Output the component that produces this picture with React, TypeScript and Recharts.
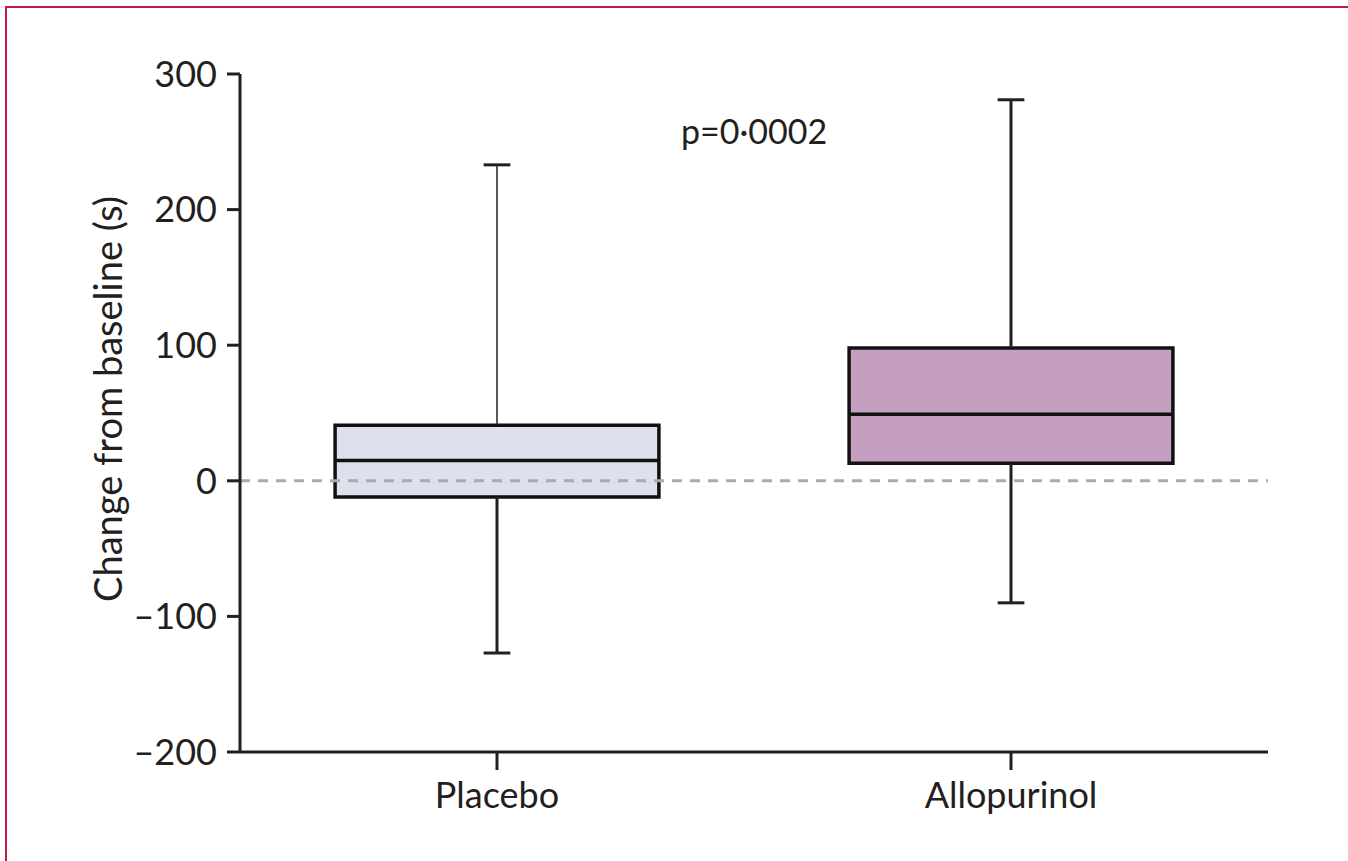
/**
 * Box plot — change from baseline (s), placebo vs allopurinol.
 */

import {
  ComposedChart,
  XAxis,
  YAxis,
  ReferenceArea,
  ReferenceLine,
  ReferenceDot,
} from "recharts";

// values
const groups = ["Placebo", "Allopurinol"];
const whiskerMin = [-127, -90];
const q1 = [-12, 13];
const median = [15, 49];
const q3 = [41, 98];
const whiskerMax = [233, 281];
const yTicks = [-200, -100, 0, 100, 200, 300];
const pValue = "p=0·0002";
const yTitle = "Change from baseline (s)";

const ink = "#231f20";
const fills = ["#dde1ee", "#c59fc0"];
const BOX_HALF = 0.315;
const CAP_HALF = 0.026;
const FONT = "Lato, 'Open Sans', sans-serif";

const fmtY = (v: number) => (v < 0 ? `\u2013${Math.abs(v)}` : `${v}`);

// rotated axis title, nudged up a little like the original
function YTitle(props: any) {
  const vb = props.viewBox || { x: 60, y: 74, width: 180, height: 678 };
  const cx = vb.x + 47;
  const cy = vb.y + vb.height / 2 - 14;
  return (
    <text
      x={cx}
      y={cy}
      transform={`rotate(-90, ${cx}, ${cy})`}
      textAnchor="middle"
      dominantBaseline="central"
      fill={ink}
      fontSize={38}
      fontFamily={FONT}
    >
      {yTitle}
    </text>
  );
}

export default function App() {
  const centers = groups.map((_, i) => i + 0.5);

  return (
    <div
      style={{
        position: "absolute",
        left: 0,
        top: 0,
        width: 1348,
        height: 861,
        background: "#fff",
        overflow: "hidden",
        fontFamily: FONT,
      }}
    >
      {/* frame, only top + left edges fall inside the crop */}
      <div
        style={{
          position: "absolute",
          left: 5,
          top: 6,
          width: 1400,
          height: 900,
          borderTop: "2px solid #c8194b",
          borderLeft: "2px solid #c8194b",
        }}
      />
      <div style={{ position: "absolute", left: 0, top: 0 }}>
        <ComposedChart
          width={1348}
          height={861}
          data={groups.map((g, i) => ({ x: centers[i], name: g }))}
          margin={{ top: 74, right: 80, bottom: 0, left: 60 }}
        >
          <XAxis
            dataKey="x"
            type="number"
            domain={[0, 2]}
            ticks={centers}
            tickFormatter={(v: number) => groups[Math.floor(v)]}
            height={109}
            stroke={ink}
            strokeWidth={3}
            tickSize={18}
            tickMargin={12}
            tick={{ fill: ink, fontSize: 36, fontFamily: FONT }}
            allowDataOverflow
          />
          <YAxis
            type="number"
            domain={[-200, 300]}
            ticks={yTicks}
            tickFormatter={fmtY}
            width={180}
            stroke={ink}
            strokeWidth={3}
            tickSize={13}
            tickMargin={10}
            tick={{ fill: ink, fontSize: 36, fontFamily: FONT }}
            allowDataOverflow
            label={{ content: YTitle }}
          />

          <ReferenceLine
            y={0}
            stroke="#aaaaaa"
            strokeWidth={3}
            strokeDasharray="10 8"
          />

          {centers.map((c, i) => (
            <g key={groups[i]}>
              {/* whiskers */}
              <ReferenceLine
                segment={[
                  { x: c, y: whiskerMin[i] },
                  { x: c, y: q1[i] },
                ]}
                stroke={ink}
                strokeWidth={3}
              />
              <ReferenceLine
                segment={[
                  { x: c, y: q3[i] },
                  { x: c, y: whiskerMax[i] },
                ]}
                stroke={ink}
                strokeWidth={i === 0 ? 1.5 : 3}
              />
              <ReferenceLine
                segment={[
                  { x: c - CAP_HALF, y: whiskerMin[i] },
                  { x: c + CAP_HALF, y: whiskerMin[i] },
                ]}
                stroke={ink}
                strokeWidth={3}
              />
              <ReferenceLine
                segment={[
                  { x: c - CAP_HALF, y: whiskerMax[i] },
                  { x: c + CAP_HALF, y: whiskerMax[i] },
                ]}
                stroke={ink}
                strokeWidth={3}
              />
              {/* box */}
              <ReferenceArea
                x1={c - BOX_HALF}
                x2={c + BOX_HALF}
                y1={q1[i]}
                y2={q3[i]}
                fill={fills[i]}
                fillOpacity={1}
                stroke="#111"
                strokeWidth={3.5}
              />
              <ReferenceLine
                segment={[
                  { x: c - BOX_HALF, y: median[i] },
                  { x: c + BOX_HALF, y: median[i] },
                ]}
                stroke="#111"
                strokeWidth={3.5}
              />
            </g>
          ))}

          <ReferenceDot
            x={1}
            y={257}
            r={0}
            fill="none"
            stroke="none"
            label={{
              value: pValue,
              position: "center",
              fill: ink,
              fontSize: 34,
              fontFamily: FONT,
            }}
          />
        </ComposedChart>
      </div>
    </div>
  );
}
